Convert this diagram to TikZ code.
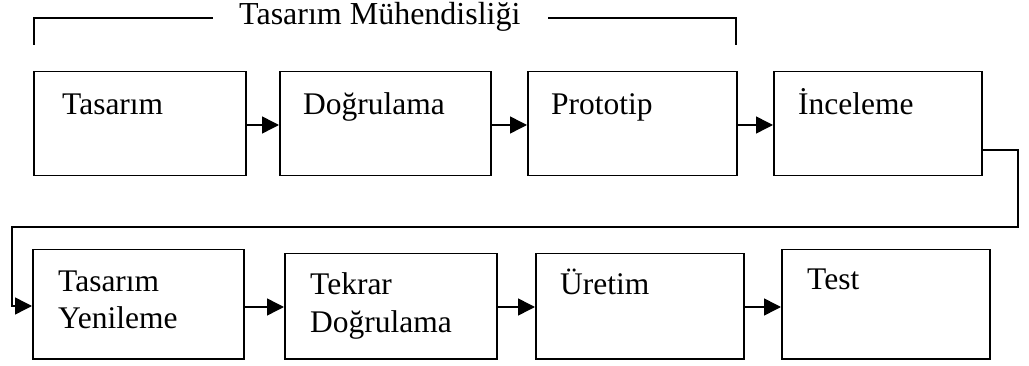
\documentclass[tikz,border=0pt]{standalone}
\usepackage{fontspec}
\setmainfont{Liberation Serif}
\usetikzlibrary{arrows.meta}
\tikzset{
  box/.style={draw, line width=1.5pt, inner sep=0pt, anchor=north west},
  lbl/.style={anchor=base west, inner sep=0pt, font=\fontsize{31.5}{36}\selectfont},
  arr/.style={line width=1.5pt, -{Triangle[length=17pt,width=17pt]}},
  wire/.style={line width=1.5pt}
}
\begin{document}
\begin{tikzpicture}[x=1pt,y=-1pt]
\useasboundingbox (0,0) rectangle (1029,366);
% title bracket
\node[lbl, font=\fontsize{32}{36}\selectfont] (title) at (239,25) {Tasarım Mühendisliği};
\coordinate (bl) at (34,45);
\coordinate (br) at (736,45);
\draw[wire] (bl) |- (213,18);
\draw[wire] (548,18) -| (br);
% row 1
\node[box, minimum width=212pt, minimum height=104pt] (b1) at (33,71) {};
\node[box, minimum width=211pt, minimum height=104pt] (b2) at (279,71) {};
\node[box, minimum width=209pt, minimum height=104pt] (b3) at (527,71) {};
\node[box, minimum width=208pt, minimum height=104pt] (b4) at (773,71) {};
% row 2
\node[box, minimum width=211pt, minimum height=109pt] (b5) at (32,249) {};
\node[box, minimum width=212pt, minimum height=105pt] (b6) at (284,253) {};
\node[box, minimum width=208pt, minimum height=105pt] (b7) at (535,253) {};
\node[box, minimum width=208pt, minimum height=109pt] (b8) at (781,249) {};
% labels
\node[lbl] (t1) at (62,115) {Tasarım};
\node[lbl] (t2) at (303,115) {Doğrulama};
\node[lbl] (t3) at (551,115) {Prototip};
\node[lbl] (t4) at (798,115) {İnceleme};
\node[lbl] (t5a) at (58,292) {Tasarım};
\node[lbl] (t5b) at (58,329) {Yenileme};
\node[lbl] (t6a) at (310,295) {Tekrar};
\node[lbl] (t6b) at (310,333) {Doğrulama};
\node[lbl] (t7) at (560,295) {Üretim};
\node[lbl] (t8) at (807,290) {Test};
% arrows row 1
\draw[arr] (b1.east |- 0,125) -- (b2.west |- 0,125);
\draw[arr] (b2.east |- 0,125) -- (b3.west |- 0,125);
\draw[arr] (b3.east |- 0,125) -- (b4.west |- 0,125);
% loop connector
\draw[arr] (b4.east |- 0,150) -- (1018,150) |- (12,227) |- (b5.west |- 0,306);
% arrows row 2
\draw[arr] (b5.east |- 0,307) -- (b6.west |- 0,307);
\draw[arr] (b6.east |- 0,307) -- (b7.west |- 0,307);
\draw[arr] (b7.east |- 0,307) -- (b8.west |- 0,307);
\end{tikzpicture}
\end{document}
